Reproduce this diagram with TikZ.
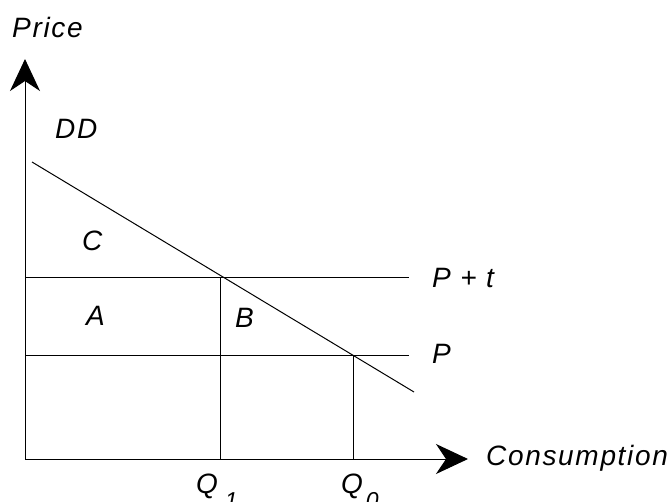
\documentclass[tikz,border=0pt]{standalone}
\usepackage{fontspec}
\setmainfont{Liberation Sans}[LetterSpace=6]
\usetikzlibrary{arrows.meta}
\begin{document}
\begin{tikzpicture}[x=1pt,y=-1pt,
  lbl/.style={anchor=base west,inner sep=0pt,font=\fontsize{28}{32}\selectfont\itshape},
  ln/.style={line width=1pt,black},
  axis/.style={line width=1pt,black,-{Stealth[length=32pt,width=30pt,inset=10pt]}}]
\useasboundingbox (0,0) rectangle (672,501);
% coordinates
\coordinate (O) at (25,459);
\coordinate (Ytop) at (25,59);
\coordinate (Xend) at (468,459);
\coordinate (D0) at (32,162);
\coordinate (D1) at (414,392);
\coordinate (Pt0) at (25,277);
\coordinate (Pt1) at (409,277);
\coordinate (P0) at (25,355);
\coordinate (P1) at (409,355);
\coordinate (E1) at (220,277);
\coordinate (E1b) at (220,459);
\coordinate (E0) at (353,355);
\coordinate (E0b) at (353,459);
% axes
\draw[axis] (O) -- (Ytop);
\draw[axis] (O) -- (Xend);
% lines
\draw[ln] (D0) -- (D1);
\draw[ln] (Pt0) -- (Pt1);
\draw[ln] (P0) -- (P1);
\draw[ln] (E1) -- (E1b);
\draw[ln] (E0) -- (E0b);
% labels
\node[lbl] (price) at (12,37) {Price};
\node[lbl] (dd) at (55,138) {DD};
\node[lbl] (c) at (82,250) {C};
\node[lbl] (a) at (86,325) {A};
\node[lbl] (b) at (235,327) {B};
\node[lbl] (pt) at (432,287) {P + t};
\node[lbl] (p) at (432,363) {P};
\node[lbl] (cons) at (486,465) {Consumption};
\node[lbl] (q1) at (196,493) {Q\hspace{7pt}\raisebox{-15pt}{\fontsize{23}{23}\selectfont 1}};
\node[lbl] (q0) at (341,493) {Q\hspace{3pt}\raisebox{-15pt}{\fontsize{23}{23}\selectfont 0}};
\end{tikzpicture}
\end{document}
